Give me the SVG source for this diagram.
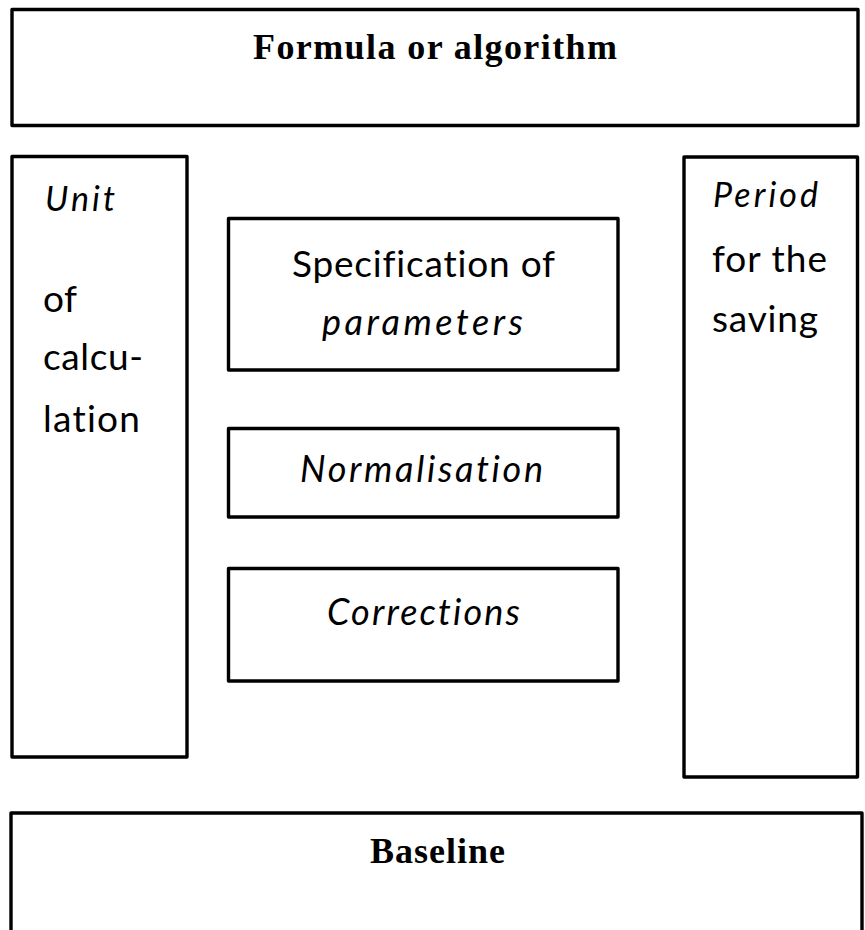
<svg xmlns="http://www.w3.org/2000/svg" width="865" height="930" viewBox="0 0 865 930">
<style>
.box{fill:#fff;stroke:#000;stroke-width:3.4;stroke-linejoin:round}
.t{font-family:Lato,"Open Sans",sans-serif;font-size:37px;fill:#000;font-variant-ligatures:none}
.h{font-size:34px}
.m{font-size:36px}
.s{font-family:"Liberation Serif","Times New Roman",serif;font-size:36px;font-weight:bold;fill:#000}
.i{font-style:italic}
</style>
<rect width="865" height="930" fill="#fff"/>
<g id="formula">
<rect class="box" x="12" y="9.5" width="846" height="116"/>
<text class="s" x="253" y="59" textLength="364" lengthAdjust="spacing">Formula or algorithm</text>
</g>
<g id="unit">
<rect class="box" x="12" y="156.5" width="175" height="600.5"/>
<text class="t h i" x="45" y="211" textLength="70" lengthAdjust="spacing">Unit</text>
<text class="t" x="43" y="312" textLength="34" lengthAdjust="spacing">of</text>
<text class="t" x="43" y="370" textLength="100" lengthAdjust="spacing">calcu-</text>
<text class="t" x="43" y="432" textLength="97" lengthAdjust="spacing">lation</text>
</g>
<g id="specification">
<rect class="box" x="228.5" y="218.5" width="389.5" height="151.5"/>
<text class="t" x="292" y="277" textLength="263" lengthAdjust="spacing">Specification of</text>
<text class="t m i" x="322" y="335" textLength="201" lengthAdjust="spacing">parameters</text>
</g>
<g id="normalisation">
<rect class="box" x="228.5" y="428.5" width="389.5" height="88.5"/>
<text class="t m i" x="300" y="482" textLength="243" lengthAdjust="spacing">Normalisation</text>
</g>
<g id="corrections">
<rect class="box" x="228.5" y="568.5" width="389.5" height="112.5"/>
<text class="t m i" x="327" y="625" textLength="193" lengthAdjust="spacing">Corrections</text>
</g>
<g id="period">
<rect class="box" x="684" y="157" width="173.5" height="620"/>
<text class="t h i" x="713" y="207" textLength="105" lengthAdjust="spacing">Period</text>
<text class="t" x="712" y="272" textLength="115" lengthAdjust="spacing">for the</text>
<text class="t" x="712" y="332" textLength="106" lengthAdjust="spacing">saving</text>
</g>
<g id="baseline">
<rect class="box" x="11" y="813" width="851" height="140"/>
<text class="s" x="370" y="863" textLength="135" lengthAdjust="spacing">Baseline</text>
</g>
<g id="connectors"></g>
</svg>
